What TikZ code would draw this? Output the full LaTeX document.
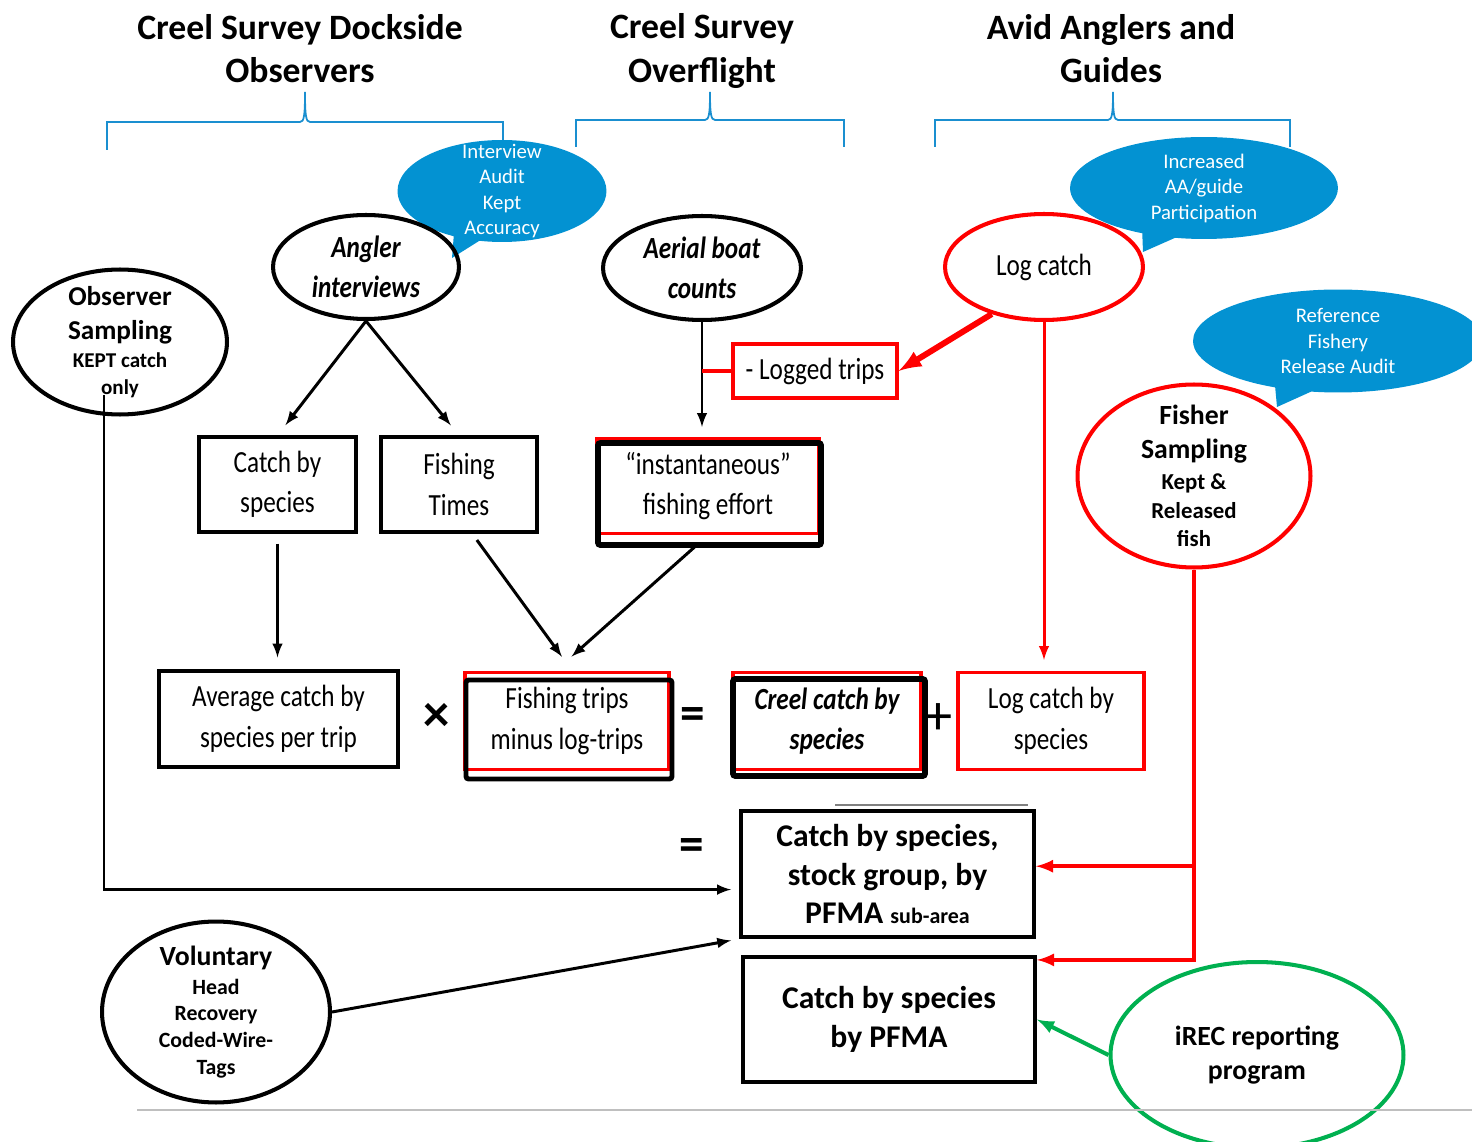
\documentclass[tikz,border=0pt]{standalone}
\usepackage{fontspec}
\setmainfont{Carlito}
\newfontfamily\narrowfont[FakeStretch=0.82]{Carlito}
\usetikzlibrary{positioning,arrows,shapes.geometric,shapes.callouts}
\definecolor{calloutblue}{HTML}{0392D2}
\definecolor{braceblue}{HTML}{1A8FD0}
\definecolor{irecgreen}{HTML}{00B050}

\begin{document}
\begin{tikzpicture}[x=0.02cm,y=-0.02cm,>=latex,
  head/.style={align=center,font=\bfseries\fontsize{20.3}{24.5}\selectfont},
  bubble/.style={ellipse callout,fill=calloutblue,text=white,align=center,
    inner xsep=0pt,inner ysep=-0.6cm,font=\fontsize{11.8}{14.5}\selectfont},
  oval/.style={ellipse,draw,line width=2.3pt,align=center,inner xsep=0pt,inner ysep=-0.6cm},
  box/.style={draw,line width=1.8pt,align=center,inner sep=0pt,
    font=\narrowfont\fontsize{17.5}{23}\selectfont},
  frame/.style={line width=3.4pt,rounded corners=1.5pt},
  link/.style={line width=1.7pt,->},
  redlink/.style={red,line width=1.7pt,->}]
      \useasboundingbox (0,0) rectangle (1472,1142);
      % group headers and brackets
      \draw (300,49) node[head] (dockside) {Creel Survey Dockside\\Observers};
      \draw (702,51) node[head] (overflight) {Creel Survey\\Overflight};
      \draw (1111,49) node[head] (avid) {Avid Anglers and\\Guides};
      \draw[braceblue,line width=1pt] (107,150) |- (300,122) .. controls (304,122) and (305,116) .. (305,92)
        .. controls (305,116) and (306,122) .. (310,122) -| (503,140);
      \draw[braceblue,line width=1pt] (576,147) |- (705,120) .. controls (709,120) and (710,114) .. (710,92)
        .. controls (710,114) and (711,120) .. (715,120) -| (844,147);
      \draw[braceblue,line width=1pt] (935,147) |- (1108,120) .. controls (1112,120) and (1113,114) .. (1113,92)
        .. controls (1113,114) and (1114,120) .. (1118,120) -| (1290,147);
      % blue notes
      \draw (502,191) node[bubble,minimum width=4.18cm,minimum height=2.04cm,
        callout absolute pointer={(452,258)}] (auditnote) {Interview\\Audit\\Kept\\Accuracy};
      \draw (1204,188) node[bubble,minimum width=5.36cm,minimum height=2.04cm,
        callout absolute pointer={(1143,252)}] (aanote) {Increased\\AA/guide\\Participation};
      \draw (1338,341) node[bubble,minimum width=5.8cm,minimum height=2.06cm,
        callout absolute pointer={(1277,407)}] (refnote) {Reference\\Fishery\\Release Audit};
      % sources
      \draw (366,267) node[oval,minimum width=3.72cm,minimum height=2.08cm,
        font=\narrowfont\bfseries\itshape\fontsize{17.5}{22.7}\selectfont] (angler) {Angler\\interviews};
      \draw (702,268) node[oval,minimum width=3.96cm,minimum height=2.08cm,
        font=\narrowfont\bfseries\itshape\fontsize{17.5}{22.7}\selectfont] (aerial) {Aerial boat\\counts};
      \draw (1044,267) node[oval,draw=red,minimum width=3.96cm,minimum height=2.12cm,
        font=\narrowfont\fontsize{17.5}{22.7}\selectfont] (logcatch) {Log catch};
      \draw (120,342) node[oval,minimum width=4.28cm,minimum height=2.9cm,
        font=\bfseries\fontsize{12}{15.3}\selectfont] (observer)
        {{\fontsize{15.5}{19}\selectfont Observer}\\[4pt]{\fontsize{15.5}{19}\selectfont Sampling}\\[1pt]KEPT catch\\only};
      \draw (1194,476) node[oval,draw=red,minimum width=4.66cm,minimum height=3.66cm,
        font=\bfseries\fontsize{13}{16}\selectfont] (fisher)
        {{\fontsize{15.8}{19}\selectfont Fisher}\\[3.3pt]{\fontsize{15.8}{19}\selectfont Sampling}\\[1.6pt]Kept \&\\[0.4pt]Released\\fish};
      \draw (216,1012) node[oval,minimum width=4.56cm,minimum height=3.62cm,
        font=\bfseries\fontsize{12.4}{15.2}\selectfont] (voluntary)
        {{\fontsize{15.8}{18}\selectfont Voluntary}\\[1.2pt]Head\\Recovery\\Coded-Wire-\\Tags};
      \draw (1257,1055) node[oval,draw=irecgreen,minimum width=5.86cm,minimum height=3.72cm,
        font=\bfseries\fontsize{15.8}{19}\selectfont] (irec) {iREC reporting\\program};
      % boxes
      \draw (277.5,484.5) node[box,minimum width=3.14cm,minimum height=1.9cm] (catchsp) {Catch by\\species};
      \draw (459,484.5) node[box,minimum width=3.12cm,minimum height=1.9cm] (fishtimes) {Fishing\\Times};
      \draw (708,486) node[box,draw=red,minimum width=4.44cm,minimum height=1.9cm] (effort) {“instantaneous”\\fishing effort};
      \draw[frame] (598,443) rectangle (821,545);
      \draw (815,371) node[box,draw=red,minimum width=3.28cm,minimum height=1.08cm] (loggedtrips) {- Logged trips};
      \draw (278.5,719) node[box,minimum width=4.78cm,minimum height=1.92cm] (avgcatch) {Average catch by\\species per trip};
      \draw (567,721) node[box,draw=red,minimum width=4.08cm,minimum height=1.94cm] (trips) {Fishing trips\\minus log-trips};
      \draw[frame,line width=2.8pt] (466,680) rectangle (672,779);
      \draw (827,721) node[box,draw=red,minimum width=3.76cm,minimum height=1.94cm,
        font=\narrowfont\bfseries\itshape\fontsize{17.5}{23}\selectfont] (creelcatch) {Creel catch by\\species};
      \draw[frame] (733,679) rectangle (925,776);
      \draw (1051,721) node[box,draw=red,minimum width=3.72cm,minimum height=1.94cm] (logcatchsp) {Log catch by\\species};
      \draw (437,717) node[font=\bfseries\fontsize{30}{30}\selectfont] (times) {×};
      \draw (693,719) node[font=\bfseries\fontsize{28}{28}\selectfont] (equals1) {=};
      \draw (938,719) node[font=\fontsize{32}{32}\selectfont] (plus) {+};
      \draw (692,850) node[font=\bfseries\fontsize{28}{28}\selectfont] (equals2) {=};
      \draw[gray,line width=0.9pt] (835,805) -- (1028,805);
      \draw (887.5,874) node[box,line width=2.3pt,minimum width=5.86cm,minimum height=2.52cm,
        font=\bfseries\fontsize{18}{22}\selectfont] (stockgroup)
        {Catch by species,\\stock group, by\\PFMA {\fontsize{12.5}{14}\selectfont sub-area}};
      \draw (889,1019.5) node[box,line width=2.3pt,minimum width=5.84cm,minimum height=2.5cm,
        font=\bfseries\fontsize{18}{22}\selectfont] (pfma) {Catch by species\\by PFMA};
      \draw[lightgray,line width=0.9pt] (137,1110) -- (1472,1110);
      % connectors
      \coordinate (obsfoot) at (104,395);
      \draw[link,shorten >=0.26cm] (angler.south) to (catchsp.north);
      \draw[link,shorten >=0.26cm] (angler.south) to (fishtimes.north);
      \draw[link,shorten >=0.2cm] (aerial.south) to (aerial.south |- effort.north);
      \draw[red,line width=2.3pt] (loggedtrips.west) -- (aerial.south |- loggedtrips.west);
      \draw[red,line width=3.4pt,->] (logcatch.222) to (loggedtrips.east);
      \draw[redlink,shorten >=0.22cm] (logcatch.south) to (logcatch.south |- logcatchsp.north);
      \draw[link,shorten <=0.2cm,shorten >=0.24cm] (catchsp.south) to (catchsp.south |- avgcatch.north);
      \draw[link,shorten <=0.16cm,shorten >=0.35cm] (fishtimes.285) to (trips.84);
      \draw[link,shorten <=0.28cm,shorten >=0.43cm] (effort.south) to (trips.103);
      \draw[link,shorten >=0.16cm] (obsfoot) |- (stockgroup.186);
      \draw[link,shorten >=0.16cm] (voluntary.east) to (stockgroup.south west);
      \draw[redlink,line width=2.3pt] (fisher.south) |- (stockgroup.3);
      \draw[redlink,line width=2.3pt] (fisher.south) |- ([yshift=-2.8pt]pfma.north east);
      \draw[irecgreen,line width=2.3pt,->] (irec.west) to (pfma.east);
      \end{tikzpicture}
\end{document}
